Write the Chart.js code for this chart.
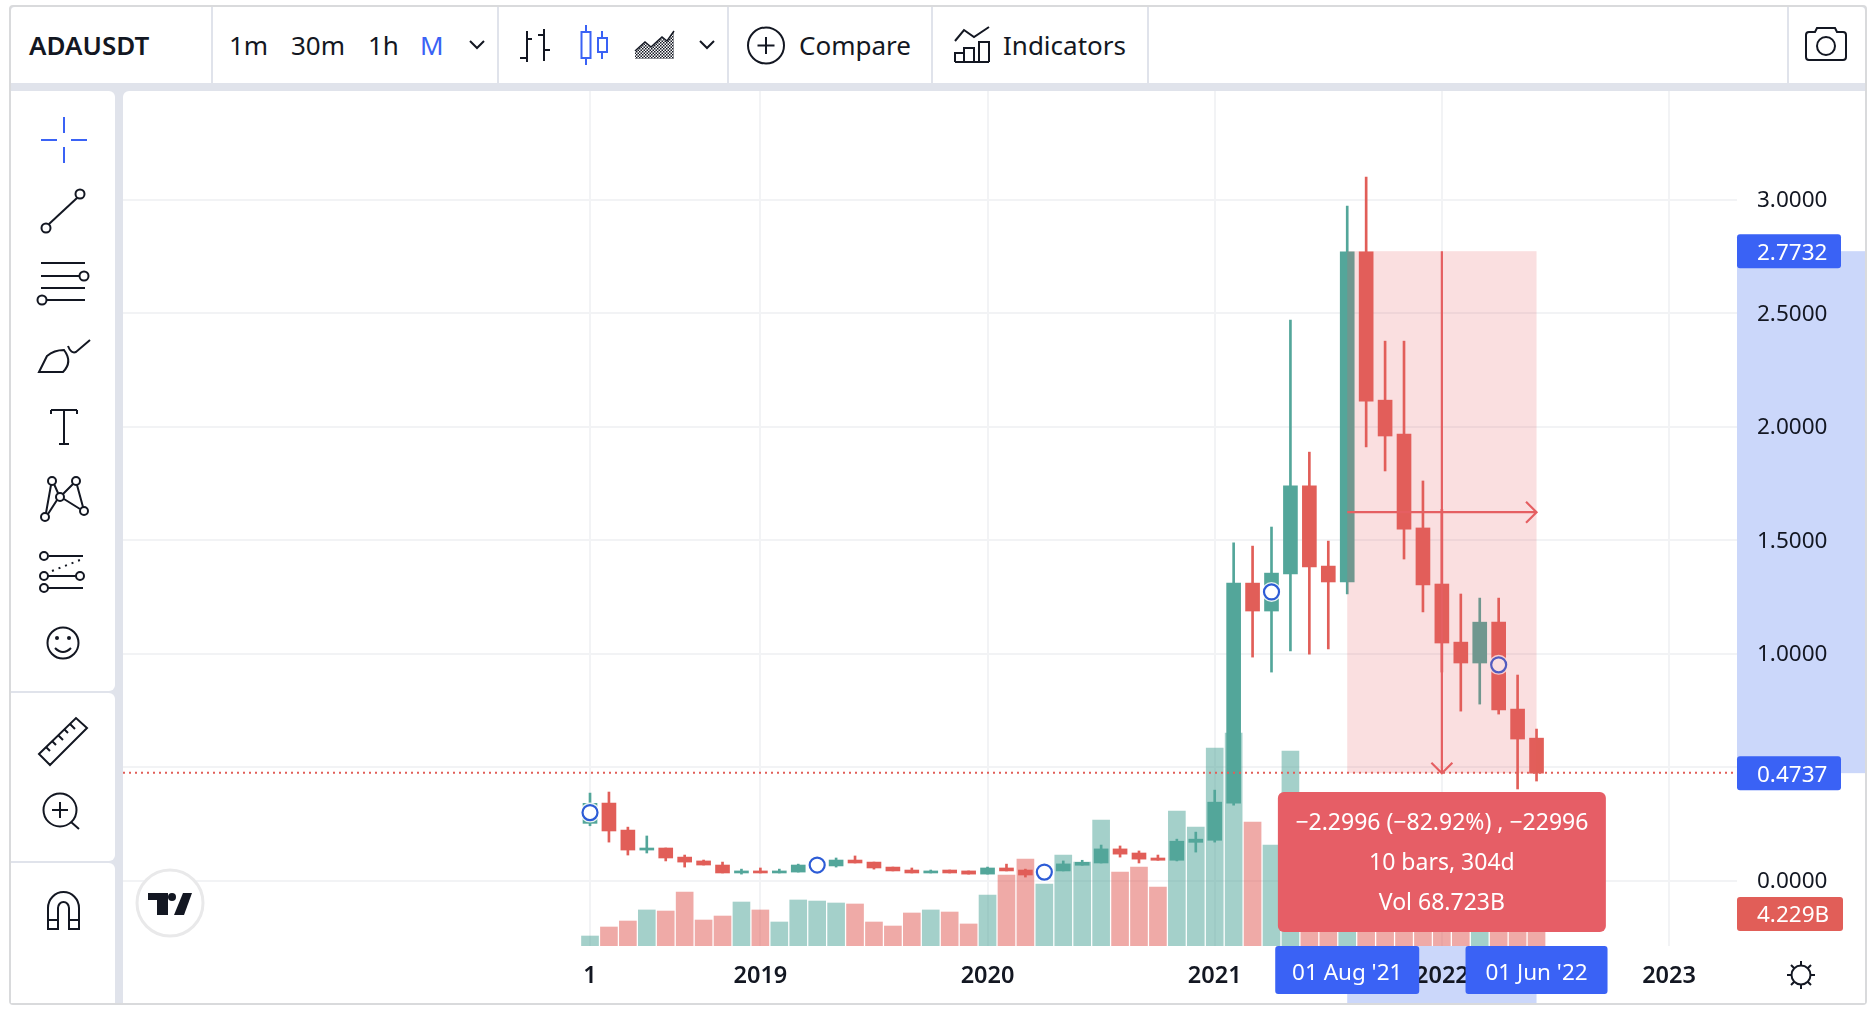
<!DOCTYPE html>
<html>
<head>
<meta charset="utf-8">
<title>ADAUSDT</title>
<script src="https://cdn.jsdelivr.net/npm/chart.js@4"></script>
<style>
html,body{margin:0;padding:0;width:1874px;height:1014px;overflow:hidden;background:#fff;font-family:"Noto Sans",sans-serif;color:#131722}
.a{position:absolute}
#frame{left:9px;top:5px;width:1854px;height:996px;border:2px solid #d9dadc;background:#e0e3eb;border-radius:4px}
.w{background:#fff}
.sep{position:absolute;top:7px;height:76px;width:2px;background:#e0e3eb}
.t{position:absolute;top:25px;height:40px;line-height:40px;font-size:26px;white-space:nowrap}
#chartBox{position:absolute;left:123px;top:91px;width:1742px;height:912px;z-index:1}
#icons{position:absolute;left:0;top:0;z-index:2;pointer-events:none}
</style>
</head>
<body>
<div class="a" id="frame"></div>
<div class="a w" style="left:11px;top:7px;width:1854px;height:76px;border-radius:4px 4px 0 0"></div>
<div class="a w" style="left:11px;top:91px;width:104px;height:600px;border-radius:0 6px 6px 0"></div>
<div class="a w" style="left:11px;top:693px;width:104px;height:168px;border-radius:0 6px 6px 0"></div>
<div class="a w" style="left:11px;top:863px;width:104px;height:140px;border-radius:0 6px 0 0"></div>
<div class="a w" style="left:123px;top:91px;width:1742px;height:912px;border-radius:6px 0 0 0"></div>
<div class="sep" style="left:211px"></div><div class="sep" style="left:497px"></div>
<div class="sep" style="left:727px"></div><div class="sep" style="left:931px"></div>
<div class="sep" style="left:1147px"></div><div class="sep" style="left:1787px"></div>
<div class="t" style="left:29px;font-weight:600;font-size:26px">ADAUSDT</div>
<div class="t" style="left:229px">1m</div>
<div class="t" style="left:291px">30m</div>
<div class="t" style="left:368px">1h</div>
<div class="t" style="left:420px;color:#3a62f5">M</div>
<div class="t" style="left:799px">Compare</div>
<div class="t" style="left:1003px">Indicators</div>
<div id="chartBox"><canvas id="c" width="1742" height="912" style="display:block;width:1742px;height:912px"></canvas></div>
<svg id="icons" width="1874" height="1014" viewBox="0 0 1874 1014" fill="none" stroke="#131722" stroke-width="2">
  <defs><pattern id="chk" width="3" height="3" patternUnits="userSpaceOnUse"><rect width="1.5" height="1.5" fill="#131722" stroke="none"/><rect x="1.5" y="1.5" width="1.5" height="1.5" fill="#131722" stroke="none"/></pattern></defs>
  <!-- header icons -->
  <polyline points="470,41 477,48 484,41"/><polyline points="700,41 707,48 714,41"/>
  <path d="M527 31V62M520 58H527M527 39H532M544 29V61M538 35H544M544 50H550"/>
  <g stroke="#3a62f5"><path d="M586 25V32M586 58V65M602 31V38M602 52V59"/><rect x="581.5" y="32" width="9" height="26"/><rect x="598" y="38" width="9" height="14"/></g>
  <path d="M635 59V52L645 43L651 48L662 38L667 42L674 31V59Z" fill="url(#chk)" stroke="none"/>
  <path d="M635 51L645 42L651 47L662 37L667 41L674 31" stroke-width="1.5"/>
  <circle cx="766" cy="45.500" r="18"/><path d="M766 37V54M757.500 45.500H774.500"/>
  <path d="M955 41L964 30L974 37L989 27"/>
  <path d="M955 62V53H964V62M964 62V48H974V62M979 62V42H989V62M955 62H989"/>
  <path d="M1806 35Q1806 32 1809 32H1815L1817 28H1835L1837 32H1843Q1846 32 1846 35V57Q1846 60 1843 60H1809Q1806 60 1806 57Z"/><circle cx="1826" cy="46" r="9"/>
  <!-- toolbar icons -->
  <path d="M64 117V133M64 147V163M41 140H57M71 140H87" stroke="#3a62f5"/>
  <circle cx="80" cy="194" r="4.500"/><circle cx="46" cy="228" r="4.500"/><path d="M77 198L49 224"/>
  <path d="M41 263H85M41 276H80M41 288H85M46 300H85"/><circle cx="84" cy="276" r="4.500"/><circle cx="42" cy="300" r="4.500"/>
  <path d="M39 372L47 356Q54 350 64 350Q73 362 63 372Z"/><path d="M68 346Q71 354 76 352L90 340"/>
  <path d="M51 410H77M51 410V414M77 410V414M64 410V444M59 444H69"/>
  <circle cx="52" cy="481" r="4"/><circle cx="76" cy="481" r="4"/><circle cx="60" cy="497" r="4"/><circle cx="45" cy="517" r="4"/><circle cx="84" cy="511" r="4"/>
  <path d="M51 485L46 513M54 484L58 493M73 484L63 494M77 485L83 507M57 500L48 514M64 499L80 509"/>
  <circle cx="44" cy="556" r="4"/><path d="M49 556H83"/><circle cx="44" cy="576" r="4"/><circle cx="80" cy="576" r="4"/><path d="M48 576H76"/><circle cx="44" cy="588" r="4"/><path d="M48 588H83"/>
  <path d="M52 571L80 560" stroke-dasharray="2 5"/>
  <circle cx="63" cy="643" r="15.500"/><circle cx="57" cy="638" r="2" fill="#131722" stroke="none"/><circle cx="69" cy="638" r="2" fill="#131722" stroke="none"/><path d="M55 648Q63 656 71 648"/>
  <path d="M39 754L76 718L87 728L50 765Z"/><path d="M46 747L50 751M52 741L56 745M58 735L63 740M64 729L68 733M70 724L75 729"/>
  <circle cx="60" cy="810" r="16.500"/><path d="M60 802V818M52 810H68M71 822L79 829"/>
  <path d="M48 929V908A15.500 16 0 0 1 79 908V929H69V908A5.500 6 0 0 0 58 908V929ZM48 920H58M69 920H79"/>
  <!-- sun -->
  <circle cx="1801" cy="975" r="9.500"/><path d="M1801 961V965M1801 985V989M1787 975H1791M1811 975H1815M1791 965L1794 968M1808 982L1811 985M1791 985L1794 982M1808 968L1811 965"/>
  <!-- logo -->
  <circle cx="170" cy="903" r="33" fill="#fff" stroke="#e9e9ea" stroke-width="3"/>
  <g fill="#131722" stroke="none"><path d="M148 893H168V915H157V900H148Z"/><circle cx="172" cy="897" r="4"/><path d="M183 893H192L184 915H174Z"/></g>
</svg>
<script>
const months = ["Apr 18","May 18","Jun 18","Jul 18","Aug 18","Sep 18","Oct 18","Nov 18","Dec 18","Jan 19","Feb 19","Mar 19","Apr 19","May 19","Jun 19","Jul 19","Aug 19","Sep 19","Oct 19","Nov 19","Dec 19","Jan 20","Feb 20","Mar 20","Apr 20","May 20","Jun 20","Jul 20","Aug 20","Sep 20","Oct 20","Nov 20","Dec 20","Jan 21","Feb 21","Mar 21","Apr 21","May 21","Jun 21","Jul 21","Aug 21","Sep 21","Oct 21","Nov 21","Dec 21","Jan 22","Feb 22","Mar 22","Apr 22","May 22","Jun 22"];
const opens  = [.2526,.342,.223,.135,.144,.104,.087,.069,.034,.043,.034,.038,.069,.065,.091,.082,.060,.047,.034,.047,.043,.029,.056,.047,.025,.043,.068,.078,.140,.122,.100,.090,.169,.178,.342,1.311,1.188,1.351,1.739,1.386,1.316,2.770,2.117,1.967,1.554,1.307,1.051,.959,1.139,.756,.628];
const highs  = [.386,.3906,.236,.197,.144,.113,.091,.082,.051,.056,.051,.073,.090,.100,.109,.082,.060,.056,.047,.047,.043,.060,.073,.051,.050,.087,.090,.157,.153,.131,.113,.183,.214,.399,1.488,1.474,1.558,2.470,1.888,1.496,2.972,3.100,2.377,2.377,1.761,1.636,1.263,1.245,1.245,.906,.668];
const lows   = [.242,.170,.113,.122,.087,.060,.069,.034,.029,.034,.034,.038,.064,.060,.078,.051,.043,.034,.034,.034,.029,.029,.043,.016,.020,.043,.068,.078,.104,.078,.090,.087,.126,.170,.333,.985,.919,1.012,.998,1.021,1.263,1.911,1.805,1.417,1.184,.919,.747,.778,.734,.404,.439];
const closes = [.3407,.219,.135,.144,.100,.082,.069,.034,.043,.034,.043,.069,.082,.091,.078,.056,.043,.034,.043,.034,.029,.056,.043,.025,.045,.074,.081,.140,.117,.095,.090,.174,.183,.346,1.311,1.188,1.355,1.739,1.382,1.316,2.770,2.113,1.959,1.549,1.303,1.047,.959,1.139,.752,.624,.4737];
const volumes = [1.32,2.51,3.30,4.76,4.62,7.13,3.43,3.96,5.81,4.76,3.17,6.08,5.94,5.68,5.55,3.17,2.64,4.36,4.76,4.49,2.91,6.74,9.38,11.49,8.19,12.02,11.10,16.64,9.78,10.44,7.79,17.83,15.72,26.16,28.14,16.38,13.34,25.76,13.21,10.57,9.51,11.23,9.25,7.93,6.61,7.27,5.94,5.28,5.94,5.02,4.229];
const markerIdx = [0,12,24,36,48];
const markerPrice = [.300,.069,.038,1.272,.951];
const priceTicks = [0,.5,1,1.5,2,2.5,3];
const timeTickIdx = [0,9,21,33,45,57];
const timeTickLabels = ["1","2019","2020","2021","2022","2023"];
const xRange = [-24.67,60.59];
const priceRange = [-.2877,3.4789];
const volumeMax = 112.95;
const measure = {fromIdx:40,toIdx:50,fromPrice:2.7732,toPrice:.4737,fromLabel:"01 Aug '21",toLabel:"01 Jun '22",lines:["\u22122.2996 (\u221282.92%) , \u221222996","10 bars, 304d","Vol 68.723B"]};
const lastVolLabel = "4.229B";

const FONT = '"Noto Sans", sans-serif';
const TEAL = "#53a69a", RED = "#e15e58";
const TEAL_V = "rgba(83,166,154,.53)", RED_V = "rgba(225,94,88,.53)";
const BLUE = "#3a62f5", BAND = "#cbd7fa", PINK = "rgba(229,94,100,.2)", LINE = "#e55f62", TIP = "#e65e66";
const up = i => closes[i] >= opens[i];
const idx = months.map((_,i)=>i);
const noPad = s => {s.paddingTop=0;s.paddingBottom=0;s.paddingLeft=0;s.paddingRight=0;};

const overlay = {
  id:"overlay",
  beforeDraw(ch){
    const {ctx,chartArea:a,scales:{x,y}} = ch;
    ctx.save();
    ctx.fillStyle = BAND;
    ctx.fillRect(a.right,y.getPixelForValue(measure.fromPrice),ch.width-a.right,y.getPixelForValue(measure.toPrice)-y.getPixelForValue(measure.fromPrice));
    ctx.fillRect(x.getPixelForValue(measure.fromIdx),a.bottom,x.getPixelForValue(measure.toIdx)-x.getPixelForValue(measure.fromIdx),ch.height-a.bottom);
    ctx.restore();
  },
  afterDraw(ch){
    const {ctx,chartArea:a,scales:{x,y,v}} = ch;
    const x0=x.getPixelForValue(measure.fromIdx), x1=x.getPixelForValue(measure.toIdx);
    const y0=y.getPixelForValue(measure.fromPrice), y1=y.getPixelForValue(measure.toPrice);
    const xm=(x0+x1)/2, ym=(y0+y1)/2;
    ctx.save();
    // measure rectangle
    ctx.fillStyle=PINK; ctx.fillRect(x0,y0,x1-x0,y1-y0);
    // last-price dotted line
    ctx.strokeStyle=RED; ctx.lineWidth=2; ctx.setLineDash([2,4]);
    ctx.beginPath(); ctx.moveTo(a.left,y1-0.5); ctx.lineTo(a.right,y1-0.5); ctx.stroke(); ctx.setLineDash([]);
    // arrows
    ctx.strokeStyle=LINE; ctx.lineWidth=2.2;
    ctx.beginPath();
    ctx.moveTo(xm,y0); ctx.lineTo(xm,y1);
    ctx.moveTo(xm-10.5,y1-10.5); ctx.lineTo(xm,y1); ctx.lineTo(xm+10.5,y1-10.5);
    ctx.moveTo(x0,ym); ctx.lineTo(x1,ym);
    ctx.moveTo(x1-10.5,ym-10.5); ctx.lineTo(x1,ym); ctx.lineTo(x1-10.5,ym+10.5);
    ctx.stroke();
    // tags
    const tag=(l,t,w,h,col,txt,align)=>{
      ctx.fillStyle=col; ctx.beginPath(); ctx.roundRect(l,t,w,h,3); ctx.fill();
      ctx.fillStyle="#fff"; ctx.font='22.5px '+FONT; ctx.textBaseline="middle";
      if(align==="left"){ctx.textAlign="left";ctx.fillText(txt,l+20,t+h/2+2);}
      else{ctx.textAlign="center";ctx.fillText(txt,l+w/2,t+h/2+4);}
    };
    tag(a.right,y0-17,104,34,BLUE,measure.fromPrice.toFixed(4),"left");
    tag(a.right,y1-17,104,34,BLUE,measure.toPrice.toFixed(4),"left");
    tag(a.right,v.getPixelForValue(volumes[volumes.length-1])-17,106,34,RED,lastVolLabel,"left");
    // result box
    const bw=328,bh=140,bt=a.bottom-154;
    ctx.fillStyle=TIP; ctx.beginPath(); ctx.roundRect(xm-bw/2,bt,bw,bh,6); ctx.fill();
    ctx.fillStyle="#fff"; ctx.font='23px '+FONT; ctx.textAlign="center"; ctx.textBaseline="middle";
    measure.lines.forEach((s,i)=>ctx.fillText(s,xm,bt+31+i*40));
    tag(x0-72,a.bottom,144,48,BLUE,measure.fromLabel);
    tag(x1-71,a.bottom,142,48,BLUE,measure.toLabel);
    ctx.restore();
  }
};

new Chart(document.getElementById("c"),{
  data:{datasets:[
    {type:"bar",label:"Volume",yAxisID:"v",order:5,barThickness:17,
     data:idx.map(i=>({x:i,y:volumes[i]})),backgroundColor:idx.map(i=>up(i)?TEAL_V:RED_V)},
    {type:"bar",label:"Wick",yAxisID:"y",order:4,barThickness:2,
     data:idx.map(i=>({x:i,y:[lows[i],highs[i]]})),backgroundColor:idx.map(i=>up(i)?TEAL:RED)},
    {type:"bar",label:"Body",yAxisID:"y",order:3,barThickness:14,minBarLength:2,
     data:idx.map(i=>({x:i,y:[opens[i],closes[i]]})),backgroundColor:idx.map(i=>up(i)?TEAL:RED)},
    {type:"line",label:"Halo",yAxisID:"y",order:2,showLine:false,pointRadius:10,pointBorderWidth:0,pointBackgroundColor:"rgba(255,255,255,.85)",
     data:markerIdx.map((m,j)=>({x:m,y:markerPrice[j]}))},
    {type:"line",label:"Markers",yAxisID:"y",order:1,showLine:false,pointRadius:7.5,pointBorderWidth:2.2,pointBorderColor:"#2d5cd6",pointBackgroundColor:"#fff",
     data:markerIdx.map((m,j)=>({x:m,y:markerPrice[j]}))}
  ]},
  options:{
    responsive:false,animation:false,devicePixelRatio:1,
    layout:{padding:0,autoPadding:false},
    datasets:{bar:{grouped:false}},
    plugins:{legend:{display:false},tooltip:{enabled:false},title:{display:false}},
    scales:{
      x:{type:"linear",position:"bottom",offset:false,min:xRange[0],max:xRange[1],
         afterBuildTicks(s){s.ticks=timeTickIdx.map(v=>({value:v}));},
         afterFit(s){s.height=57;noPad(s);},
         grid:{offset:false,color:"#f2f3f5",lineWidth:2,drawTicks:false},border:{display:false},
         ticks:{autoSkip:false,maxRotation:0,padding:16,color:"#131722",font:{family:FONT,size:23.5,weight:"600"},
                callback:v=>timeTickLabels[timeTickIdx.indexOf(v)]}},
      y:{type:"linear",position:"right",offset:false,min:priceRange[0],max:priceRange[1],
         afterBuildTicks(s){s.ticks=priceTicks.map(v=>({value:v}));},
         afterFit(s){s.width=128;noPad(s);},
         grid:{color:"#f2f3f5",lineWidth:2,drawTicks:false},border:{display:false},
         ticks:{padding:20,labelOffset:1,color:"#131722",font:{family:FONT,size:22.5},callback:v=>Number(v).toFixed(4)}},
      v:{type:"linear",display:false,min:0,max:volumeMax}
    }
  },
  plugins:[overlay]
});
</script>
</body>
</html>
